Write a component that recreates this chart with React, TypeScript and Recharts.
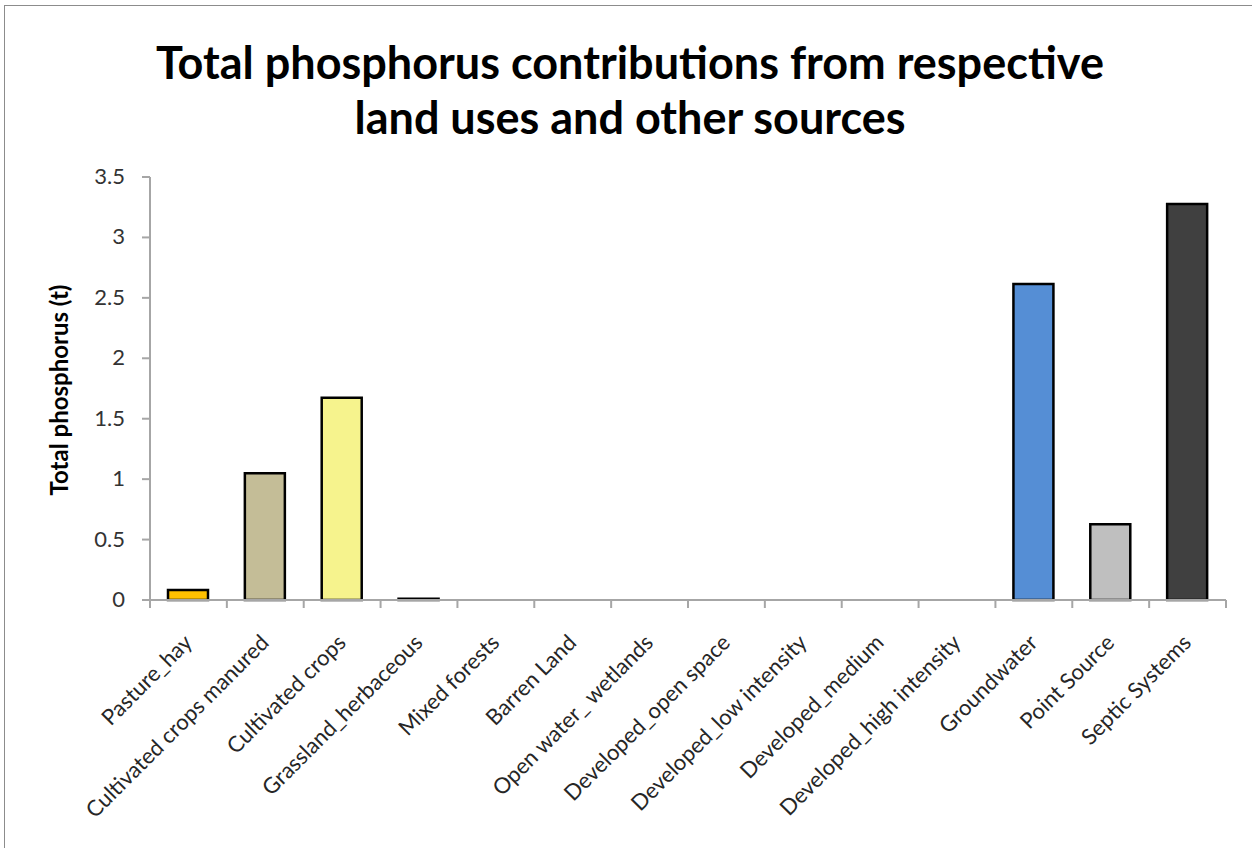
import React from "react";
import { BarChart, Bar, XAxis, YAxis, Cell } from "recharts";

const categories = [
  "Pasture_hay",
  "Cultivated crops manured",
  "Cultivated crops",
  "Grassland_herbaceous",
  "Mixed forests",
  "Barren Land",
  "Open water_ wetlands",
  "Developed_open space",
  "Developed_low intensity",
  "Developed_medium",
  "Developed_high intensity",
  "Groundwater",
  "Point Source",
  "Septic Systems",
];
const phosphorus = [0.083, 1.048, 1.674, 0.01, 0, 0, 0, 0, 0, 0, 0, 2.615, 0.626, 3.277];
const barColors = [
  "#FFC000", "#C4BD97", "#F6F38D", "#9BBB59", "#4F6228", "#948A54", "#4BACC6",
  "#E6B9B8", "#D99694", "#C0504D", "#953735", "#558ED5", "#BFBFBF", "#404040",
];
const yTicks = [0, 0.5, 1, 1.5, 2, 2.5, 3, 3.5];

const data = categories.map((name, i) => ({ name, value: phosphorus[i] }));

const FONT = "Lato, 'Open Sans', sans-serif";
const CHART_W = 1252;
const MARGIN = { top: 177, right: 26, left: 60, bottom: 48 };
const Y_AXIS_W = 90;
const PLOT_W = CHART_W - MARGIN.left - MARGIN.right - Y_AXIS_W;
const BAND = PLOT_W / categories.length;
const AXIS_GRAY = "#A6A6A6";

const XTick = (props: any) => {
  const { x, y, payload, index } = props;
  const axisY = y - 10;
  const isLast = index === categories.length - 1;
  return (
    <g>
      <line x1={x - BAND / 2} x2={x - BAND / 2} y1={axisY} y2={axisY + 8} stroke={AXIS_GRAY} strokeWidth={2} />
      {isLast && (
        <line x1={x + BAND / 2} x2={x + BAND / 2} y1={axisY} y2={axisY + 8} stroke={AXIS_GRAY} strokeWidth={2} />
      )}
      <g transform={`translate(${x + 5},${axisY + 44})`}>
        <text
          x={0}
          y={0}
          transform="rotate(-45)"
          textAnchor="end"
          fontFamily={FONT}
          fontSize={22}
          fill="#262626"
        >
          {payload.value}
        </text>
      </g>
    </g>
  );
};

const YTick = (props: any) => {
  const { x, y, payload } = props;
  return (
    <text x={x - 15} y={y + 7} textAnchor="end" fontFamily={FONT} fontSize={22} fill="#333">
      {payload.value}
    </text>
  );
};

export default function App() {
  return (
    <div style={{ position: "absolute", left: 0, top: 0, width: 1252, height: 848, background: "#fff", overflow: "hidden" }}>
      <div
        style={{
          position: "absolute",
          left: 4,
          top: 5,
          width: 1300,
          height: 900,
          border: "1px solid #8c8c8c",
        }}
      />
      <div
        style={{
          position: "absolute",
          left: 0,
          top: 35,
          width: 1260,
          textAlign: "center",
          fontFamily: FONT,
          fontWeight: 700,
          fontSize: 45,
          lineHeight: "55px",
          color: "#000",
        }}
      >
        Total phosphorus contributions from respective
        <br />
        land uses and other sources
      </div>
      <div style={{ position: "absolute", left: 0, top: 0 }}>
        <BarChart
          width={CHART_W}
          height={848}
          data={data}
          margin={MARGIN}
          barSize={40}
        >
          <XAxis
            dataKey="name"
            interval={0}
            height={200}
            tick={<XTick />}
            axisLine={{ stroke: AXIS_GRAY, strokeWidth: 2 }}
            tickLine={false}
            tickSize={8}
          />
          <YAxis
            width={Y_AXIS_W}
            domain={[0, 3.5]}
            ticks={yTicks}
            interval={0}
            tick={<YTick />}
            axisLine={{ stroke: AXIS_GRAY, strokeWidth: 2 }}
            tickLine={{ stroke: AXIS_GRAY, strokeWidth: 2 }}
            tickSize={8}
          />
          <Bar dataKey="value" stroke="#000" strokeWidth={2.5} isAnimationActive={false}>
            {data.map((d, i) => (
              <Cell key={d.name} fill={barColors[i]} />
            ))}
          </Bar>
          <text
            x={68}
            y={390}
            transform="rotate(-90, 68, 390)"
            textAnchor="middle"
            fontFamily={FONT}
            fontWeight={700}
            fontSize={24}
            fill="#000"
          >
            Total phosphorus (t)
          </text>
        </BarChart>
      </div>
    </div>
  );
}
